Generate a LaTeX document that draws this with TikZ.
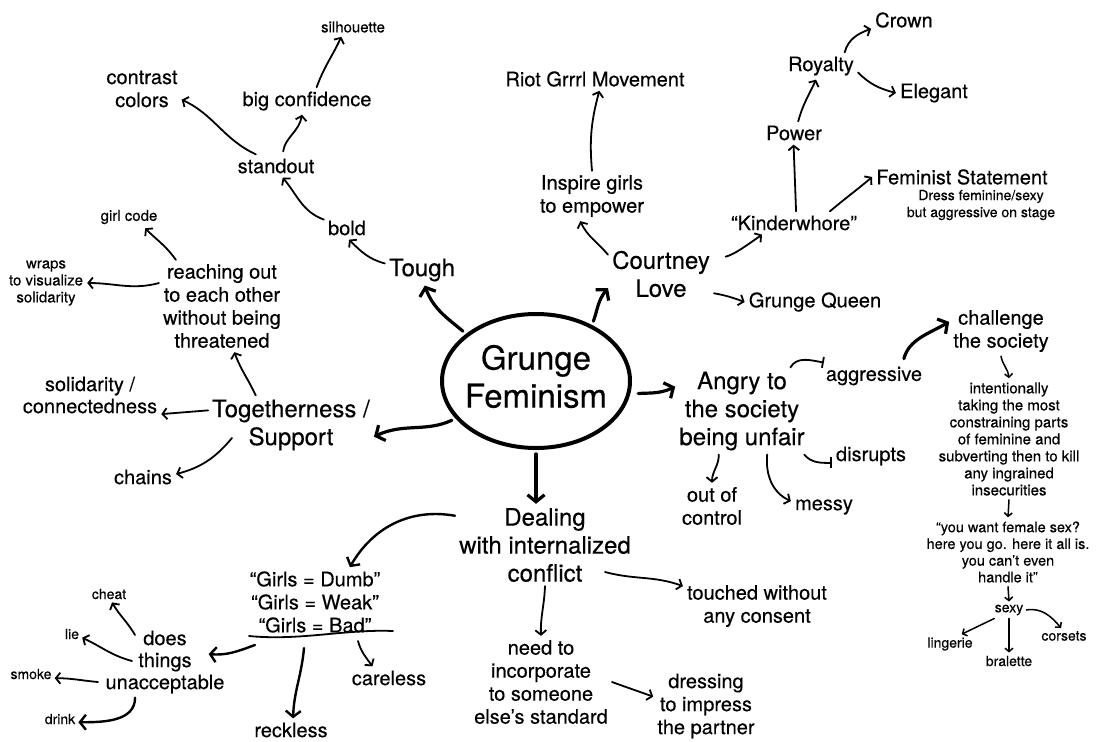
\documentclass[tikz,border=0pt]{standalone}
\usepackage{fontspec}
\setmainfont[FakeBold=0.3]{TeX Gyre Heros}
\usetikzlibrary{arrows.meta,shapes.geometric,calc}
\tikzset{
  txt/.style={align=center, inner sep=4pt},
  centertxt/.style={font=\fontsize{33}{38}\selectfont},
  major/.style={txt, font=\fontsize{24}{28}\selectfont},
  med/.style={txt, font=\fontsize{20}{23}\selectfont},
  medb/.style={txt, font=\fontsize{20}{22}\selectfont},
  small/.style={txt, font=\fontsize{15}{17}\selectfont},
  smallq/.style={txt, font=\fontsize{14.5}{16.7}\selectfont},
  tinytxt/.style={txt, inner sep=3pt, font=\fontsize{14}{17}\selectfont},
  arr/.style={line width=1.8pt, line cap=round, -{Straight Barb[length=4.5pt,width=11pt]}},
  arrm/.style={line width=2.4pt, line cap=round, -{Straight Barb[length=6pt,width=15pt]}},
  thk/.style={line width=3.2pt, line cap=round, shorten <=4pt, -{Straight Barb[length=7pt,width=17pt]}},
  arrs/.style={line width=1.5pt, line cap=round, -{Straight Barb[length=3.5pt,width=8pt]}},
  bararr/.style={line width=1.8pt, line cap=round, -{Bar[width=11pt]}},
}
\begin{document}
\begin{tikzpicture}[x=1pt,y=-1pt]
\useasboundingbox (0,0) rectangle (1096,742);
\fill[white] (0,0) rectangle (1096,742);

% centre
\node[draw, ellipse, line width=4pt, minimum width=188pt, minimum height=134pt, inner sep=0pt, centertxt] (gf) at (536,381)
  {\makebox[0pt]{\begin{tabular}{@{}c@{}}Grunge\\Feminism\end{tabular}}};

% Tough branch
\node[major] (tough) at (422,270) {Tough};
\node[med] (bold) at (347,228) {bold};
\node[med] (standout) at (276,166) {standout};
\node[med] (bigconf) at (307,101) {big confidence};
\node[small] (silhouette) at (353,27) {silhouette};
\node[med] (contrast) at (142,89) {contrast\\colors};

% Togetherness branch
\node[major] (together) at (291,425) {Togetherness /\\Support};
\node[med] (reach) at (222,306) {reaching out\\to each other\\without being\\threatened};
\node[small] (girlcode) at (129,217) {girl code};
\node[small] (wraps) at (46,283) {wraps\\to visualize\\solidarity};
\node[medb] (solid) at (90,395) {solidarity /\\connectedness};
\node[med] (chains) at (143,477) {chains};

% Courtney branch
\node[major] (courtney) at (661,274) {Courtney\\Love};
\node[med] (inspire) at (592,196) {Inspire girls\\to empower};
\node[med] (riot) at (595,79) {Riot Grrrl Movement};
\node[med] (kinder) at (794,223) {“Kinderwhore”};
\node[med] (power) at (794,133) {Power};
\node[med] (royalty) at (821,66) {Royalty};
\node[med] (crown) at (904,20) {Crown};
\node[med] (elegant) at (934,93) {Elegant};
\node[med] (feminist) at (962,177) {Feminist Statement};
\node[tinytxt] (dress) at (981,205) {Dress feminine/sexy\\but aggressive on stage};
\node[med] (queen) at (815,302) {Grunge Queen};

% Angry branch
\node[major] (angry) at (742,411) {Angry to\\the society\\being unfair};
\node[med] (aggressive) at (874,376) {aggressive};
\node[med] (challenge) at (1001,331) {challenge\\the society};
\node[small] (intent) at (1009,439) {intentionally\\taking the most\\constraining parts\\of feminine and\\subverting then to kill\\any ingrained\\insecurities};
\node[smallq] (youwant) at (1008,552) {“you want female sex?\\here you go. here it all is.\\you can't even\\handle it”};
\node[tinytxt] (sexy) at (1009,610) {sexy};
\node[tinytxt] (lingerie) at (950,644) {lingerie};
\node[tinytxt] (bralette) at (1009,661) {bralette};
\node[tinytxt] (corsets) at (1064,636) {corsets};
\node[med] (ooc) at (712,506) {out of\\control};
\node[med] (messy) at (824,507) {messy};
\node[med] (disrupts) at (871,456) {disrupts};

% Dealing branch
\node[major] (dealing) at (545,545) {Dealing\\with internalized\\conflict};
\node[med] (girls) at (315,602) {“Girls = Dumb”\\“Girls = Weak”\\“Girls = Bad”};
\node[medb] (does) at (165,662) {does\\things\\unacceptable};
\node[tinytxt] (cheat) at (109,594) {cheat};
\node[tinytxt] (lie) at (72,634) {lie};
\node[tinytxt] (smoke) at (31,674) {smoke};
\node[tinytxt] (drink) at (60,719) {drink};
\node[med] (careless) at (389,678) {careless};
\node[med] (reckless) at (291,730) {reckless};
\node[med] (touched) at (757,606) {touched without\\any consent};
\node[med] (need) at (541,682) {need to\\incorporate\\to someone\\else's standard};
\node[med] (dressing) at (706,706) {dressing\\to impress\\the partner};

% underline under the Girls quotes
\coordinate (ul1) at (249,636);
\coordinate (ul2) at (393,631);
\coordinate (ua) at (255,645);
\coordinate (ub) at (304,648);
\coordinate (uc) at (358,641);
\draw[line width=1.8pt, line cap=round] (ul1) .. controls (300,641) and (345,629) .. (ul2);

% ---- connectors ----
% Tough
\draw[thk] (gf.146) to[out=140,in=-70] (tough.-80);
\draw[arr] (tough.170) to[out=165,in=-45] (bold.-80);
\draw[arr] (bold.160) to[out=160,in=-50] (standout.-60);
\draw[arr, shorten <=3pt] (standout.60) to[out=82,in=-100] (bigconf.-110);
\draw[arr] (standout.150) to[out=155,in=-25] (contrast.-15);
\draw[arr] (bigconf.55) to[out=70,in=-115] (silhouette.-140);

% Togetherness
\draw[thk] (gf.205) to[out=205,in=25] (together.-8);
\draw[arr] (together.140) to[out=115,in=-70] (reach.-75);
\draw[arr] (reach.135) to[out=125,in=-45] (girlcode.-35);
\draw[arr] (reach.160) to[out=-165,in=0] (wraps.east);
\draw[arr] (together.170) -- (solid.-15);
\draw[arr] ($(together)+(-59,13)$) to[out=-130,in=15] (chains.5);

% Courtney
\draw[thk] (gf.45) to[out=70,in=-130] (courtney.195);
\draw[arr] (courtney.160) to[out=130,in=-65] (inspire.-115);
\draw[arr] (inspire.north) to[out=95,in=-105] (riot.-70);
\draw[arr, shorten <=12pt] (courtney.15) to[out=15,in=-145] (kinder.-160);
\draw[arr] (courtney.-20) to[out=-10,in=160] (queen.west);
\draw[arr] (kinder.80) to[out=92,in=-88] (power.-92);
\draw[arr] (power.70) to[out=75,in=-115] (royalty.-110);
\draw[arr] (royalty.30) to[out=75,in=200] (crown.195);
\draw[arr] (royalty.-10) to[out=-45,in=165] (elegant.west);
\draw[arr] (kinder.18) to[out=40,in=-140] (feminist.west);

% Angry
\draw[thk, shorten <=8pt] (gf.-8) to[out=5,in=-155] (angry.160);
\draw[bararr] (angry.42) to[out=60,in=170] (aggressive.165);
\draw[thk] (aggressive.25) to[out=75,in=-150] (challenge.170);
\draw[arrs] (challenge.south) to[out=-80,in=95] (intent.north);
\draw[arrs] (intent.south) -- (youwant.north);
\draw[arrs] (youwant.south) -- (sexy.north);
\draw[arrs] (sexy.-150) -- (lingerie.40);
\draw[arrs] (sexy.south) -- (bralette.north);
\draw[arrs] (sexy.east) to[out=10,in=130] (corsets.110);
\draw[arr] (angry.-118) to[out=-90,in=90] (ooc.north);
\draw[arr] (angry.-60) to[out=-95,in=155] (messy.170);
\draw[bararr] (angry.-35) to[out=-50,in=180] (disrupts.190);

% Dealing
\draw[thk] (gf.south) -- (gf.south |- dealing.north);
\draw[arrm] (dealing.162) to[out=170,in=60] (girls.45);
\draw[arrm] (ua) to[out=-160,in=-5] ($(does.east)+(-20,-8)$);
\draw[arrm] (ub) to[out=-95,in=88] (reckless.80);
\draw[arr] (uc) to[out=-75,in=125] (careless.145);
\draw[arr] ($(does)+(-30,-27)$) to[out=120,in=-60] (cheat.-70);
\draw[arr] ($(does)+(-33,-1)$) to[out=165,in=-25] (lie.-20);
\draw[arr] ($(does)+(-67,20)$) to[out=175,in=0] (smoke.-10);
\draw[arrm] (does.-130) to[out=-90,in=0] (drink.-10);
\draw[arr] ($(dealing)+(60,27)$) to[out=-15,in=160] (touched.165);
\draw[arr] (dealing.south) to[out=-92,in=92] (need.north);
\draw[arr] (need.east) to[out=-20,in=160] (dressing.170);
\end{tikzpicture}
\end{document}
